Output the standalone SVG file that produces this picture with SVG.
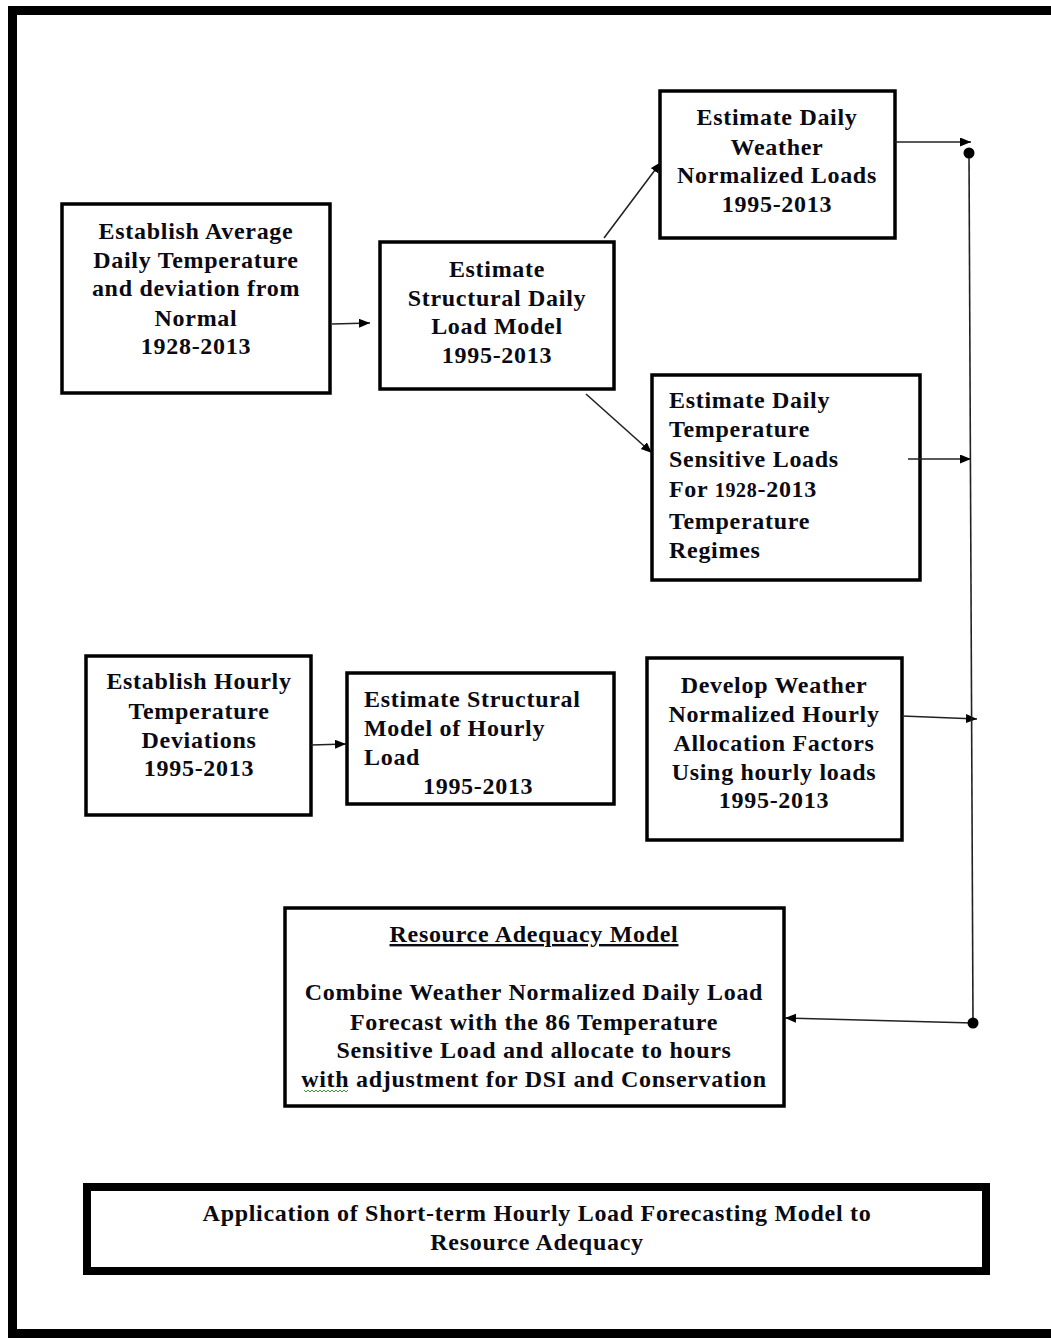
<svg xmlns="http://www.w3.org/2000/svg" width="1051" height="1338" viewBox="0 0 1051 1338">
<style>
.box{fill:#fff;stroke:#000;stroke-width:3.5}
.t{font-family:"Liberation Serif","Times New Roman",serif;font-weight:bold;font-size:24px;letter-spacing:0.7px;fill:#0a0a14}
.c{text-anchor:middle}
.conn{stroke:#222;stroke-width:1.6;fill:none}
</style>
<defs>
<marker id="arr" markerUnits="userSpaceOnUse" markerWidth="12" markerHeight="10" refX="11" refY="4.5" orient="auto">
<path d="M0,0 L11,4.5 L0,9 z" fill="#000"/>
</marker>
</defs>
<rect x="0" y="0" width="1051" height="1338" fill="#fff"/>
<rect x="12.5" y="10.5" width="1060" height="1323" fill="none" stroke="#000" stroke-width="9"/>

<g id="n1">
<rect class="box" x="62" y="204" width="268" height="189"/>
<text class="t c" x="196" y="239">Establish Average</text>
<text class="t c" x="196" y="268">Daily Temperature</text>
<text class="t c" x="196" y="296">and deviation from</text>
<text class="t c" x="196" y="326">Normal</text>
<text class="t c" x="196" y="354">1928-2013</text>
</g>

<g id="n2">
<rect class="box" x="380" y="242" width="234" height="147"/>
<text class="t c" x="497" y="277">Estimate</text>
<text class="t c" x="497" y="306">Structural Daily</text>
<text class="t c" x="497" y="334">Load Model</text>
<text class="t c" x="497" y="363">1995-2013</text>
</g>

<g id="n3">
<rect class="box" x="660" y="91" width="235" height="147"/>
<text class="t c" x="777" y="125">Estimate Daily</text>
<text class="t c" x="777" y="155">Weather</text>
<text class="t c" x="777" y="183">Normalized Loads</text>
<text class="t c" x="777" y="212">1995-2013</text>
</g>

<g id="n4">
<rect class="box" x="652" y="375" width="268" height="205"/>
<text class="t" x="669" y="408">Estimate Daily</text>
<text class="t" x="669" y="437">Temperature</text>
<text class="t" x="669" y="467">Sensitive Loads</text>
<text class="t" x="669" y="497">For <tspan font-size="20">1928</tspan>-2013</text>
<text class="t" x="669" y="529">Temperature</text>
<text class="t" x="669" y="558">Regimes</text>
</g>

<g id="n5">
<rect class="box" x="86" y="656" width="225" height="159"/>
<text class="t c" x="199" y="689">Establish Hourly</text>
<text class="t c" x="199" y="719">Temperature</text>
<text class="t c" x="199" y="748">Deviations</text>
<text class="t c" x="199" y="776">1995-2013</text>
</g>

<g id="n6">
<rect class="box" x="347" y="673" width="267" height="131"/>
<text class="t" x="364" y="707">Estimate Structural</text>
<text class="t" x="364" y="736">Model of Hourly</text>
<text class="t" x="364" y="765">Load</text>
<text class="t" x="423" y="794">1995-2013</text>
</g>

<g id="n7">
<rect class="box" x="647" y="658" width="255" height="182"/>
<text class="t c" x="774" y="693">Develop Weather</text>
<text class="t c" x="774" y="722">Normalized Hourly</text>
<text class="t c" x="774" y="751">Allocation Factors</text>
<text class="t c" x="774" y="780">Using hourly loads</text>
<text class="t c" x="774" y="808">1995-2013</text>
</g>

<g id="n8">
<rect class="box" x="285" y="908" width="499" height="198"/>
<text class="t c" x="534" y="942" text-decoration="underline">Resource Adequacy Model</text>
<text class="t c" x="534" y="1000">Combine Weather Normalized Daily Load</text>
<text class="t c" x="534" y="1030">Forecast with the 86 Temperature</text>
<text class="t c" x="534" y="1058">Sensitive Load and allocate to hours</text>
<text class="t c" x="534" y="1087">with adjustment for DSI and Conservation</text>
<path d="M304,1090 l2,2 l2,-2 l2,2 l2,-2 l2,2 l2,-2 l2,2 l2,-2 l2,2 l2,-2 l2,2 l2,-2 l2,2 l2,-2 l2,2 l2,-2 l2,2 l2,-2 l2,2 l2,-2 l2,2 l2,-2" fill="none" stroke="#3a9a3a" stroke-width="1"/>
</g>

<g id="n9">
<rect x="87" y="1187" width="899" height="84" fill="#fff" stroke="#000" stroke-width="8"/>
<text class="t c" x="537" y="1221" letter-spacing="0.5">Application of Short-term Hourly Load Forecasting Model to</text>
<text class="t c" x="537" y="1250" letter-spacing="0.5">Resource Adequacy</text>
</g>

<g id="connectors">
<line class="conn" x1="332" y1="324" x2="370" y2="323" marker-end="url(#arr)"/>
<line class="conn" x1="604" y1="238" x2="661" y2="162" marker-end="url(#arr)"/>
<line class="conn" x1="586" y1="394" x2="652" y2="453" marker-end="url(#arr)"/>
<line class="conn" x1="895" y1="142" x2="971" y2="142" marker-end="url(#arr)"/>
<line class="conn" x1="908" y1="459" x2="971" y2="459" marker-end="url(#arr)"/>
<line class="conn" x1="902" y1="716" x2="977" y2="719" marker-end="url(#arr)"/>
<line class="conn" x1="311" y1="745" x2="346" y2="744" marker-end="url(#arr)"/>
<line class="conn" x1="969" y1="153" x2="973" y2="1023" stroke="#555"/>
<line class="conn" x1="973" y1="1023" x2="785" y2="1018" marker-end="url(#arr)"/>
<circle cx="969" cy="153" r="5.5" fill="#000"/>
<circle cx="973" cy="1023" r="5.5" fill="#000"/>
</g>
</svg>
